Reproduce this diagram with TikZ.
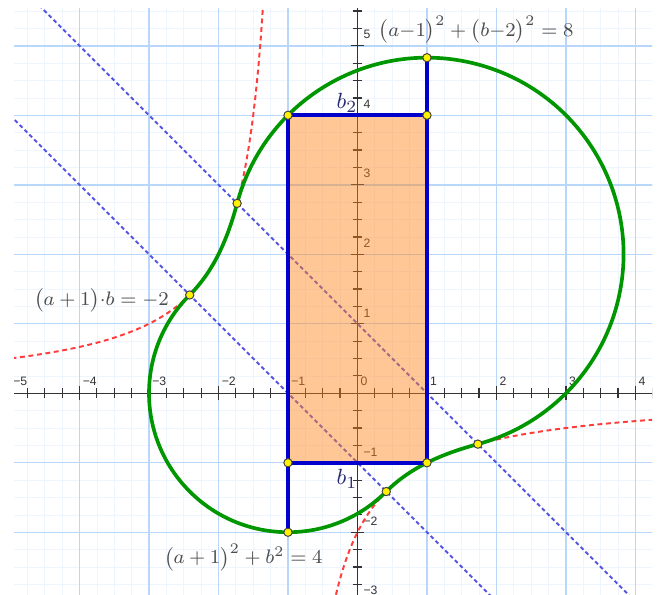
\documentclass[tikz,border=0pt]{standalone}
\usepackage{amsmath}
\usepackage{amssymb}
\usepackage{fontspec}
\setsansfont{Liberation Sans}
\usepackage{tikz}

\definecolor{gridline}{RGB}{185,215,250}
\definecolor{gridfaint}{RGB}{238,245,255}
\definecolor{curvegreen}{RGB}{0,150,0}
\definecolor{rectblue}{RGB}{0,0,205}
\definecolor{lineblue}{RGB}{85,85,225}
\definecolor{hypred}{RGB}{255,60,60}
\definecolor{fillorange}{RGB}{255,130,20}
\definecolor{labelblue}{RGB}{40,40,110}

\begin{document}
\begin{tikzpicture}[
        pt/.style={circle,fill=yellow,draw=black!75,line width=0.4pt,inner sep=0pt,minimum size=0.12cm},
        ticklab/.style={font=\sffamily\fontsize{5}{6}\selectfont,text=black!80,inner sep=0pt,anchor=south west},
        eq/.style={font=\fontsize{8}{9.5}\selectfont,text=black!70,inner sep=0pt,anchor=west},
        blab/.style={font=\fontsize{9.5}{11}\selectfont,text=labelblue,inner sep=0pt}]
            \useasboundingbox (-5.144,-2.902) rectangle (4.353,5.659);
            \coordinate (P1) at (-1.7321,2.7321);
            \coordinate (P2) at (1.7321,-0.7321);
            \coordinate (P3) at (0.4142,-1.4142);
            \coordinate (P4) at (-2.4142,1.4142);
            \begin{scope}
            \clip (-4.94,-2.902) rectangle (4.24,5.54);
            \draw[gridfaint,line width=0.3pt,step=0.25] (-5,-3) grid (4.5,5.75);
            \draw[gridline,line width=0.6pt,step=1] (-5,-3) grid (4.5,5.75);
            \draw[black!80,line width=0.5pt] (-5,0) -- (4.5,0);
            \draw[black!80,line width=0.5pt] (0,-3) -- (0,5.75);
            \foreach \t in {-5,-4.75,...,4.3} \draw[black!80,line width=0.5pt] (\t,-0.07) -- (\t,0.07);
            \foreach \t in {-3,-2.75,...,5.6} \draw[black!80,line width=0.5pt] (-0.07,\t) -- (0.07,\t);
            \foreach \t in {-5,...,4} \draw[black!80,line width=0.5pt] (\t,-0.1) -- (\t,0.1);
            \foreach \t in {-3,...,5} \draw[black!80,line width=0.5pt] (-0.1,\t) -- (0.1,\t);
            \foreach \t/\s in {-5/−5,-4/−4,-3/−3,-2/−2,-1/−1,0/0,1/1,2/2,3/3,4/4}
                \node[ticklab] at (\t+0.04,0.11) {\s};
            \foreach \t/\s in {-3/−3,-2/−2,-1/−1,1/1,2/2,3/3,4/4,5/5}
                \node[ticklab] at (0.08,\t+0.09) {\s};
            \draw[lineblue,line width=0.8pt,dash pattern=on 1.6pt off 1.2pt] (-5,6) -- (5,-4);
            \draw[lineblue,line width=0.8pt,dash pattern=on 1.6pt off 1.2pt] (-5,4) -- (5,-6);
            \draw[hypred,line width=0.8pt,dash pattern=on 2pt off 1.5pt,domain=-0.31:4.5,samples=100] plot (\x,{-2/(\x+1)});
            \draw[hypred,line width=0.8pt,dash pattern=on 2pt off 1.5pt,domain=-5.1:-1.355,samples=100] plot (\x,{-2/(\x+1)});
            \fill[fillorange,fill opacity=0.45] (-1,-1) rectangle (1,4);
            \draw[curvegreen,line width=1.5pt,line join=round] (P1) arc[start angle=165,end angle=-75,radius=2.8284]
                -- plot[domain=1.7321:0.4142,samples=40] (\x,{-2/(\x+1)})
                arc[start angle=-45,end angle=-225,radius=2]
                -- plot[domain=-2.4142:-1.7321,samples=40] (\x,{-2/(\x+1)}) -- cycle;
            \draw[rectblue,line width=1.5pt] (-1,-1) rectangle (1,4);
            \draw[rectblue,line width=1.5pt] (1,4) -- (1,4.8284);
            \draw[rectblue,line width=1.5pt] (-1,-1) -- (-1,-2);
            \end{scope}
            \foreach \p/\n in {{(-1,4)}/a, {(1,4)}/b, {(1,4.8284)}/c, {(-1,-1)}/d, {(1,-1)}/e, {(-1,-2)}/f,
                               (P1)/g, (P2)/h, (P3)/i, (P4)/j}
                \node[pt] (pt\n) at \p {};
            \node[eq] (eqbig) at (0.3,5.23) {$\bigl(a{-}1\bigr)^2+\bigl(b{-}2\bigr)^2=8$};
            \node[eq] (eqhyp) at (-4.66,1.34) {$\bigl(a+1\bigr){\cdot}b=-2$};
            \node[eq] (eqsmall) at (-2.79,-2.36) {$\bigl(a+1\bigr)^2+b^2=4$};
            \node[blab] (btwo) at (-0.15,4.18) {$b_2$};
            \node[blab] (bone) at (-0.15,-1.23) {$b_1$};
        \end{tikzpicture}
\end{document}
